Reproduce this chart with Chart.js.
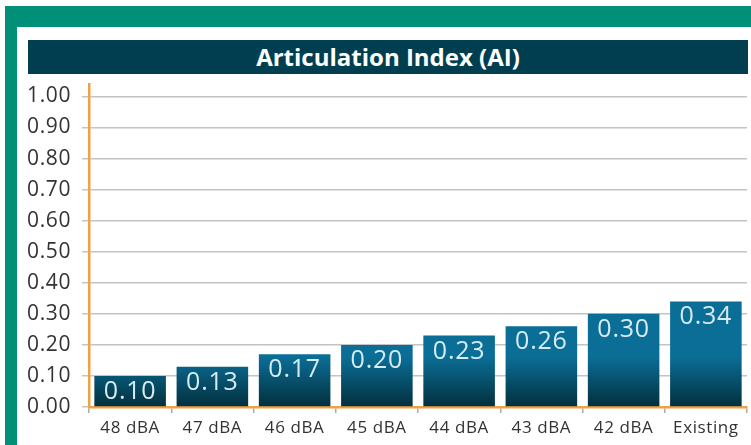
<!DOCTYPE html>
<html><head><meta charset="utf-8">
<script src="https://cdn.jsdelivr.net/npm/chart.js@4"></script>
<style>
html,body{margin:0;padding:0;background:#fff;width:751px;height:445px;overflow:hidden;}
#frame{position:absolute;left:5px;top:6px;width:746px;height:439px;background:#008f79;}
#inner{position:absolute;left:17px;top:27px;width:734px;height:418px;background:#fff;}
#title{position:absolute;left:28px;top:40px;width:720px;height:34px;background:#013f50;color:#fff;font:bold 24px "Open Sans",sans-serif;text-align:center;line-height:33px;}
#wrap{position:absolute;left:17px;top:74px;width:734px;height:371px;}
</style>
</head><body>
<div id="frame"></div>
<div id="inner"></div>
<div id="title">Articulation Index (AI)</div>
<div id="wrap"><canvas id="c" width="734" height="371"></canvas></div>
<script>
const categories = ["48 dBA","47 dBA","46 dBA","45 dBA","44 dBA","43 dBA","42 dBA","Existing"];
const aiValues = [0.10,0.13,0.17,0.20,0.23,0.26,0.30,0.34];
const yTickValues = [0,0.1,0.2,0.3,0.4,0.5,0.6,0.7,0.8,0.9,1.0];

const labelPlugin = {
  id:'barLabels',
  beforeDraw(chart){ chart.ctx.letterSpacing = '0.6px'; },
  afterDatasetsDraw(chart){
    const ctx = chart.ctx;
    const meta = chart.getDatasetMeta(0);
    ctx.save();
    ctx.letterSpacing = '0.8px';
    ctx.font = '25px "Open Sans", sans-serif';
    ctx.fillStyle = '#d6ecf4';
    ctx.textAlign = 'center';
    ctx.textBaseline = 'alphabetic';
    meta.data.forEach((bar,i)=>{
      ctx.fillText(aiValues[i].toFixed(2), bar.x, bar.y + 23);
    });
    ctx.restore();
  }
};

new Chart(document.getElementById('c'), {
  type:'bar',
  data:{
    labels: categories,
    datasets:[{
      data: aiValues,
      backgroundColor(context){
        const ca = context.chart.chartArea;
        if(!ca) return '#0a6e96';
        const g = context.chart.ctx.createLinearGradient(0, ca.bottom - 50, 0, ca.bottom);
        g.addColorStop(0,'#0a6e96');
        g.addColorStop(1,'#032f3d');
        return g;
      },
      borderWidth:0,
      barPercentage:0.87,
      categoryPercentage:1.0
    }]
  },
  options:{
    responsive:false,
    animation:false,
    layout:{padding:{top:10,right:4,left:0,bottom:0}},
    plugins:{legend:{display:false},tooltip:{enabled:false}},
    scales:{
      y:{
        min:0, max:1.04,
        ticks:{stepSize:0.1, color:'#333', font:{family:'"Open Sans"', size:21}, padding:11,
          callback:(v)=>v.toFixed(2)},
        afterBuildTicks(scale){
          scale.ticks = yTickValues.map(v=>({value:v}));
        },
        afterFit(scale){ scale.width = 72; scale.paddingTop = 0; scale.paddingBottom = 0; },
        grid:{color:'#c4c4c4', lineWidth:1.5, tickLength:7},
        border:{color:'#f0a045', width:2.5}
      },
      x:{
        ticks:{color:'#333', font:{family:'"Open Sans"', size:17}, padding:5},
        afterFit(scale){ scale.height = 38; scale.paddingLeft = 0; scale.paddingRight = 0; },
        grid:{offset:true, drawOnChartArea:false, tickLength:6, color:'#aaa', lineWidth:1.5},
        border:{color:'#f0a045', width:2.5}
      }
    }
  },
  plugins:[labelPlugin]
});
</script>
</body></html>
